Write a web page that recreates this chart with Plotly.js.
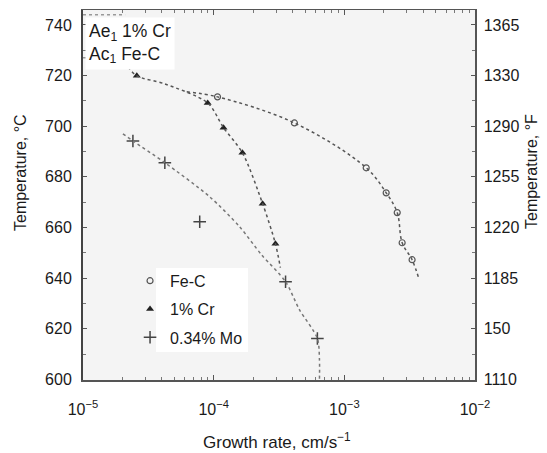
<!DOCTYPE html>
<html>
<head>
<meta charset="utf-8">
<script src="https://cdn.plot.ly/plotly-3.0.1.min.js"></script>
<style>
  html, body { margin: 0; padding: 0; background: #ffffff; }
  #chart { width: 547px; height: 453px; }
</style>
</head>
<body>
<div id="chart"></div>
<script>
// Measured pearlite growth rates (cm/s) against transformation temperature (°C)
const feC_rate = [1.07e-4, 4.15e-4, 1.47e-3, 2.09e-3, 2.54e-3, 2.77e-3, 3.30e-3];
const feC_temp = [711.6, 701.3, 683.6, 673.7, 665.9, 654.0, 647.3];

const cr_rate = [2.58e-5, 9.0e-5, 1.19e-4, 1.66e-4, 2.37e-4, 2.97e-4];
const cr_temp = [719.9, 709.2, 699.4, 689.5, 669.4, 653.6];

const mo_rate = [2.41e-5, 4.23e-5, 7.82e-5, 3.55e-4, 6.22e-4];
const mo_temp = [694.2, 685.6, 662.3, 638.6, 616.2];

// Hand-drawn trend curves through each data set
const feC_curve_rate = [6.22e-5, 1.07e-4, 4.15e-4, 1.47e-3, 2.09e-3, 2.54e-3, 2.77e-3, 3.30e-3, 3.74e-3];
const feC_curve_temp = [713.6, 711.6, 701.3, 683.6, 673.7, 665.9, 654.0, 647.3, 639.4];

const cr_curve_rate = [2.21e-5, 2.58e-5, 4.23e-5, 9.0e-5, 1.19e-4, 1.66e-4, 2.37e-4, 2.97e-4, 3.24e-4];
const cr_curve_temp = [723.4, 719.9, 716.7, 709.2, 699.4, 689.5, 669.4, 653.6, 644.2];

const mo_curve_rate = [2.02e-5, 2.41e-5, 4.23e-5, 9.3e-5, 1.58e-4, 2.32e-4, 3.55e-4, 4.53e-4, 6.22e-4, 6.45e-4, 6.45e-4];
const mo_curve_temp = [697.0, 694.2, 685.6, 672.2, 660.3, 649.3, 638.6, 627.6, 616.2, 607.9, 600.0];

// Equilibrium / critical temperatures (°C)
const ae1_cr = 744;
const ac1_feC = 727;
const critical_rate = [1.0e-5, 2.1e-5];

// Axis ticks
const tempTicks = [600, 620, 640, 660, 680, 700, 720, 740];
const fahrenheitLabels = ['1110', '150', '1185', '1220', '1255', '1290', '1330', '1365'];
const rateTicks = [1e-5, 1e-4, 1e-3, 1e-2];
const rateLabels = ['10<sup>−5</sup>', '10<sup>−4</sup>', '10<sup>−3</sup>', '10<sup>−2</sup>'];

const FONT = 'Liberation Sans, Arial, Helvetica, sans-serif';
const INK = '#1a1a1a';

const traces = [
  {
    x: feC_rate, y: feC_temp, type: 'scatter', mode: 'markers', name: 'Fe-C',
    legendgroup: 'a',
    marker: { symbol: 'circle-open', size: 6, color: '#555', line: { width: 1.2, color: '#555' } }
  },
  {
    x: cr_rate, y: cr_temp, type: 'scatter', mode: 'markers', name: '1% Cr',
    legendgroup: 'b',
    marker: { symbol: 'triangle-up', size: 7, color: '#222' }
  },
  {
    x: mo_rate, y: mo_temp, type: 'scatter', mode: 'markers', name: '0.34% Mo',
    legendgroup: 'c',
    marker: { symbol: 'cross-thin', size: 9, color: '#444', line: { width: 1.5, color: '#444' } }
  },
  {
    x: feC_curve_rate, y: feC_curve_temp, type: 'scatter', mode: 'lines', showlegend: false,
    line: { color: '#555', width: 1.5, dash: '3px,3px', shape: 'spline', smoothing: 1 }, hoverinfo: 'skip'
  },
  {
    x: cr_curve_rate, y: cr_curve_temp, type: 'scatter', mode: 'lines', showlegend: false,
    line: { color: '#555', width: 1.5, dash: '3px,3px', shape: 'spline', smoothing: 0.8 }, hoverinfo: 'skip'
  },
  {
    x: mo_curve_rate, y: mo_curve_temp, type: 'scatter', mode: 'lines', showlegend: false,
    line: { color: '#777', width: 1.5, dash: 'dot', shape: 'spline', smoothing: 0.8 }, hoverinfo: 'skip'
  },
  {
    x: critical_rate, y: [ae1_cr, ae1_cr], type: 'scatter', mode: 'lines', showlegend: false,
    yaxis: 'y2', line: { color: '#999', width: 1.5, dash: 'dot' }, hoverinfo: 'skip'
  },
  {
    x: critical_rate, y: [ac1_feC, ac1_feC], type: 'scatter', mode: 'lines', showlegend: false,
    yaxis: 'y2', line: { color: '#999', width: 1.5, dash: 'dot' }, hoverinfo: 'skip'
  }
];

const yRange = [599.8, 745.9];

const layout = {
  width: 547, height: 453,
  margin: { l: 83, r: 72, t: 10, b: 73 },
  paper_bgcolor: '#ffffff',
  plot_bgcolor: '#f4f4f4',
  font: { family: FONT, size: 16, color: INK },
  showlegend: true,
  legend: {
    x: 0.12, y: 0.314, xanchor: 'left', yanchor: 'top',
    bgcolor: 'rgba(0,0,0,0)', borderwidth: 0,
    font: { family: FONT, size: 16, color: INK },
    itemwidth: 30, tracegroupgap: 4.5
  },
  xaxis: {
    type: 'log', range: [-5, -2],
    tickvals: rateTicks, ticktext: rateLabels,
    ticks: 'inside', ticklen: 5, tickcolor: '#555', tickwidth: 1,
    minor: { ticks: 'inside', ticklen: 3, tickcolor: '#777', dtick: 'D1' },
    ticklabelstandoff: 14,
    showgrid: false, zeroline: false,
    showline: true, linecolor: '#555', linewidth: 1.5, mirror: 'ticks',
    tickfont: { family: FONT, size: 16, color: INK }
  },
  yaxis: {
    range: yRange, tickvals: tempTicks,
    ticks: 'inside', ticklen: 4, tickcolor: '#555',
    minor: { ticks: 'inside', ticklen: 3, tickcolor: '#777', dtick: 10 },
    ticklabelstandoff: 6,
    showgrid: false, zeroline: false,
    showline: true, linecolor: '#444', linewidth: 2,
    tickfont: { family: FONT, size: 16, color: INK }
  },
  yaxis2: {
    overlaying: 'y', side: 'right', range: yRange,
    tickvals: tempTicks, ticktext: fahrenheitLabels,
    ticks: 'inside', ticklen: 4, tickcolor: '#555',
    minor: { ticks: 'inside', ticklen: 3, tickcolor: '#777', dtick: 10 },
    ticklabelstandoff: 4,
    showgrid: false, zeroline: false,
    showline: true, linecolor: '#555', linewidth: 1.5,
    tickfont: { family: FONT, size: 16, color: INK }
  },
  shapes: [
    // white panel behind the legend labels
    { type: 'rect', xref: 'paper', yref: 'paper', layer: 'below',
      x0: (156 - 83) / 392, x1: (248 - 83) / 392, y0: (380 - 352) / 370, y1: (380 - 268) / 370,
      fillcolor: '#ffffff', line: { width: 0 } }
  ],
  annotations: [
    { xref: 'paper', yref: 'paper', x: 0.005, y: 0.982, xanchor: 'left', yanchor: 'top',
      text: 'Ae<sub>1</sub> 1% Cr<br>Ac<sub>1</sub> Fe-C', align: 'left', showarrow: false,
      bgcolor: '#ffffff', borderpad: 3,
      font: { family: FONT, size: 17.5, color: INK } },
    { xref: 'paper', yref: 'paper', x: (20 - 83) / 392, y: (380 - 172) / 370,
      xanchor: 'center', yanchor: 'middle',
      text: 'Temperature, °C', textangle: -90, showarrow: false,
      font: { family: FONT, size: 16, color: INK } },
    { xref: 'paper', yref: 'paper', x: (531 - 83) / 392, y: (380 - 172) / 370,
      xanchor: 'center', yanchor: 'middle',
      text: 'Temperature, °F', textangle: -90, showarrow: false,
      font: { family: FONT, size: 16, color: INK } },
    { xref: 'paper', yref: 'paper', x: (277 - 83) / 392, y: (380 - 441) / 370,
      xanchor: 'center', yanchor: 'middle',
      text: 'Growth rate, cm/s<sup>−1</sup>', showarrow: false,
      font: { family: FONT, size: 17, color: INK } }
  ]
};

Plotly.newPlot('chart', traces, layout, { displayModeBar: false, staticPlot: true });
</script>
</body>
</html>
